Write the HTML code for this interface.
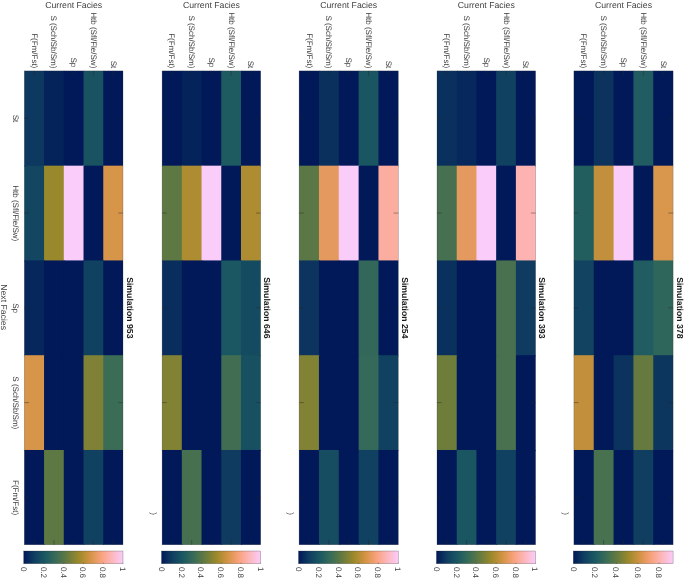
<!DOCTYPE html>
<html><head><meta charset="utf-8"><title>Transition matrices</title>
<style>
html,body{margin:0;padding:0;background:#fff;}
svg{display:block;}
text{text-rendering:geometricPrecision;font-family:"Liberation Sans",Arial,sans-serif;fill:#404040;}
.lab{font-size:8.7px;}
.tick{font-size:8px;}
.ttl{font-size:8.7px;font-weight:bold;fill:#1a1a1a;}
</style></head><body>
<svg width="685" height="578" viewBox="0 0 685 578">
<defs>
<linearGradient id="cb" x1="0" y1="0" x2="1" y2="0">
<stop offset="0.0000" stop-color="#011959"/><stop offset="0.1111" stop-color="#103F60"/><stop offset="0.2222" stop-color="#1C5A62"/><stop offset="0.3333" stop-color="#3C6D56"/><stop offset="0.4444" stop-color="#687B3E"/><stop offset="0.5556" stop-color="#9D892B"/><stop offset="0.6667" stop-color="#D29343"/><stop offset="0.7778" stop-color="#F8A17B"/><stop offset="0.8889" stop-color="#FDB7BC"/><stop offset="1.0000" stop-color="#FACCFA"/>
</linearGradient>
</defs>
<rect width="685" height="578" fill="#fff"/>
<g>
<rect x="24.30" y="70.90" width="20.74" height="95.77" fill="#0D385F"/><rect x="44.04" y="70.90" width="20.74" height="95.77" fill="#05235B"/><rect x="63.78" y="70.90" width="20.74" height="95.77" fill="#011959"/><rect x="83.52" y="70.90" width="20.74" height="95.77" fill="#195261"/><rect x="103.26" y="70.90" width="19.74" height="95.77" fill="#011959"/>
<rect x="24.30" y="165.67" width="20.74" height="95.77" fill="#134661"/><rect x="44.04" y="165.67" width="20.74" height="95.77" fill="#9A882C"/><rect x="63.78" y="165.67" width="20.74" height="95.77" fill="#FACCFA"/><rect x="83.52" y="165.67" width="20.74" height="95.77" fill="#011959"/><rect x="103.26" y="165.67" width="19.74" height="95.77" fill="#D7954A"/>
<rect x="24.30" y="260.44" width="20.74" height="95.77" fill="#06275C"/><rect x="44.04" y="260.44" width="20.74" height="95.77" fill="#011959"/><rect x="63.78" y="260.44" width="20.74" height="95.77" fill="#011959"/><rect x="83.52" y="260.44" width="20.74" height="95.77" fill="#114160"/><rect x="103.26" y="260.44" width="19.74" height="95.77" fill="#011959"/>
<rect x="24.30" y="355.21" width="20.74" height="95.77" fill="#D7954A"/><rect x="44.04" y="355.21" width="20.74" height="95.77" fill="#011959"/><rect x="63.78" y="355.21" width="20.74" height="95.77" fill="#011959"/><rect x="83.52" y="355.21" width="20.74" height="95.77" fill="#7E8136"/><rect x="103.26" y="355.21" width="19.74" height="95.77" fill="#3B6C56"/>
<rect x="24.30" y="449.98" width="20.74" height="94.77" fill="#011959"/><rect x="44.04" y="449.98" width="20.74" height="94.77" fill="#5E7843"/><rect x="63.78" y="449.98" width="20.74" height="94.77" fill="#011959"/><rect x="83.52" y="449.98" width="20.74" height="94.77" fill="#114160"/><rect x="103.26" y="449.98" width="19.74" height="94.77" fill="#011959"/>
<rect x="24.30" y="70.90" width="98.70" height="473.85" fill="none" stroke="#262626" stroke-opacity="0.45" stroke-width="0.5"/>
<path d="M34.17 70.90v4.7M34.17 544.75v-4.7M53.91 70.90v4.7M53.91 544.75v-4.7M73.65 70.90v4.7M73.65 544.75v-4.7M93.39 70.90v4.7M93.39 544.75v-4.7M113.13 70.90v4.7M113.13 544.75v-4.7M24.30 118.29h4.7M123.00 118.29h-4.7M24.30 213.06h4.7M123.00 213.06h-4.7M24.30 307.83h4.7M123.00 307.83h-4.7M24.30 402.60h4.7M123.00 402.60h-4.7M24.30 497.37h4.7M123.00 497.37h-4.7" stroke="#262626" stroke-opacity="0.7" stroke-width="0.6" fill="none"/>
<text class="tick" text-anchor="end" transform="translate(31.67 68.30) rotate(90)">F(Fm/Fst)</text><text class="tick" text-anchor="end" transform="translate(51.41 68.30) rotate(90)">S (Sch/Sb/Sm)</text><text class="tick" text-anchor="end" transform="translate(71.15 67.30) rotate(90)">Sp</text><text class="tick" text-anchor="end" transform="translate(90.89 68.30) rotate(90)">Htb (Sfl/Fle/Sw)</text><text class="tick" text-anchor="end" transform="translate(110.63 68.30) rotate(90)">St</text>
<text class="lab" text-anchor="middle" x="73.65" y="7.6">Current Facies</text>
<text class="ttl" text-anchor="middle" transform="translate(126.60 307.82) rotate(90)">Simulation 953</text>
<rect x="23.70" y="551.00" width="99.30" height="12.70" fill="url(#cb)" stroke="#262626" stroke-opacity="0.5" stroke-width="0.5"/>
<text class="tick" transform="translate(21.10 566.90) rotate(90)">0</text><path d="M24.30 563.70v-1" stroke="#1b1b2b" stroke-opacity="0.6" stroke-width="0.6"/><text class="tick" transform="translate(40.84 566.90) rotate(90)">0.2</text><path d="M44.04 563.70v-1" stroke="#1b1b2b" stroke-opacity="0.6" stroke-width="0.6"/><text class="tick" transform="translate(60.58 566.90) rotate(90)">0.4</text><path d="M63.78 563.70v-1" stroke="#1b1b2b" stroke-opacity="0.6" stroke-width="0.6"/><text class="tick" transform="translate(80.32 566.90) rotate(90)">0.6</text><path d="M83.52 563.70v-1" stroke="#1b1b2b" stroke-opacity="0.6" stroke-width="0.6"/><text class="tick" transform="translate(100.06 566.90) rotate(90)">0.8</text><path d="M103.26 563.70v-1" stroke="#1b1b2b" stroke-opacity="0.6" stroke-width="0.6"/><text class="tick" transform="translate(119.80 566.90) rotate(90)">1</text><path d="M123.00 563.70v-1" stroke="#1b1b2b" stroke-opacity="0.6" stroke-width="0.6"/>
<text class="tick" text-anchor="middle" transform="translate(13.40 118.49) rotate(90)">St</text><text class="tick" text-anchor="middle" transform="translate(13.40 213.26) rotate(90)">Htb (Sfl/Fle/Sw)</text><text class="tick" text-anchor="middle" transform="translate(13.40 308.03) rotate(90)">Sp</text><text class="tick" text-anchor="middle" transform="translate(13.40 402.80) rotate(90)">S (Sch/Sb/Sm)</text><text class="tick" text-anchor="middle" transform="translate(13.40 497.56) rotate(90)">F(Fm/Fst)</text>
<text class="lab" text-anchor="middle" transform="translate(1.30 307.12) rotate(90)">Next Facies</text>
</g>
<g>
<rect x="162.10" y="70.90" width="20.72" height="95.77" fill="#011959"/><rect x="181.82" y="70.90" width="20.72" height="95.77" fill="#05235B"/><rect x="201.54" y="70.90" width="20.72" height="95.77" fill="#011959"/><rect x="221.26" y="70.90" width="20.72" height="95.77" fill="#1E5B61"/><rect x="240.98" y="70.90" width="19.72" height="95.77" fill="#011959"/>
<rect x="162.10" y="165.67" width="20.72" height="95.77" fill="#5E7843"/><rect x="181.82" y="165.67" width="20.72" height="95.77" fill="#AD8C32"/><rect x="201.54" y="165.67" width="20.72" height="95.77" fill="#FACCFA"/><rect x="221.26" y="165.67" width="20.72" height="95.77" fill="#011959"/><rect x="240.98" y="165.67" width="19.72" height="95.77" fill="#AD8C32"/>
<rect x="162.10" y="260.44" width="20.72" height="95.77" fill="#092E5D"/><rect x="181.82" y="260.44" width="20.72" height="95.77" fill="#011959"/><rect x="201.54" y="260.44" width="20.72" height="95.77" fill="#011959"/><rect x="221.26" y="260.44" width="20.72" height="95.77" fill="#1B5762"/><rect x="240.98" y="260.44" width="19.72" height="95.77" fill="#154B61"/>
<rect x="162.10" y="355.21" width="20.72" height="95.77" fill="#828234"/><rect x="181.82" y="355.21" width="20.72" height="95.77" fill="#011959"/><rect x="201.54" y="355.21" width="20.72" height="95.77" fill="#011959"/><rect x="221.26" y="355.21" width="20.72" height="95.77" fill="#416E53"/><rect x="240.98" y="355.21" width="19.72" height="95.77" fill="#175061"/>
<rect x="162.10" y="449.98" width="20.72" height="94.77" fill="#011959"/><rect x="181.82" y="449.98" width="20.72" height="94.77" fill="#477050"/><rect x="201.54" y="449.98" width="20.72" height="94.77" fill="#011959"/><rect x="221.26" y="449.98" width="20.72" height="94.77" fill="#0E3B5F"/><rect x="240.98" y="449.98" width="19.72" height="94.77" fill="#011959"/>
<rect x="162.10" y="70.90" width="98.60" height="473.85" fill="none" stroke="#262626" stroke-opacity="0.45" stroke-width="0.5"/>
<path d="M171.96 70.90v4.7M171.96 544.75v-4.7M191.68 70.90v4.7M191.68 544.75v-4.7M211.40 70.90v4.7M211.40 544.75v-4.7M231.12 70.90v4.7M231.12 544.75v-4.7M250.84 70.90v4.7M250.84 544.75v-4.7M162.10 118.29h4.7M260.70 118.29h-4.7M162.10 213.06h4.7M260.70 213.06h-4.7M162.10 307.83h4.7M260.70 307.83h-4.7M162.10 402.60h4.7M260.70 402.60h-4.7M162.10 497.37h4.7M260.70 497.37h-4.7" stroke="#262626" stroke-opacity="0.7" stroke-width="0.6" fill="none"/>
<text class="tick" text-anchor="end" transform="translate(169.46 68.30) rotate(90)">F(Fm/Fst)</text><text class="tick" text-anchor="end" transform="translate(189.18 68.30) rotate(90)">S (Sch/Sb/Sm)</text><text class="tick" text-anchor="end" transform="translate(208.90 67.30) rotate(90)">Sp</text><text class="tick" text-anchor="end" transform="translate(228.62 68.30) rotate(90)">Htb (Sfl/Fle/Sw)</text><text class="tick" text-anchor="end" transform="translate(248.34 68.30) rotate(90)">St</text>
<text class="lab" text-anchor="middle" x="211.40" y="7.6">Current Facies</text>
<text class="ttl" text-anchor="middle" transform="translate(264.30 307.82) rotate(90)">Simulation 646</text>
<rect x="161.50" y="551.00" width="99.20" height="12.70" fill="url(#cb)" stroke="#262626" stroke-opacity="0.5" stroke-width="0.5"/>
<text class="tick" transform="translate(158.90 566.90) rotate(90)">0</text><path d="M162.10 563.70v-1" stroke="#1b1b2b" stroke-opacity="0.6" stroke-width="0.6"/><text class="tick" transform="translate(178.62 566.90) rotate(90)">0.2</text><path d="M181.82 563.70v-1" stroke="#1b1b2b" stroke-opacity="0.6" stroke-width="0.6"/><text class="tick" transform="translate(198.34 566.90) rotate(90)">0.4</text><path d="M201.54 563.70v-1" stroke="#1b1b2b" stroke-opacity="0.6" stroke-width="0.6"/><text class="tick" transform="translate(218.06 566.90) rotate(90)">0.6</text><path d="M221.26 563.70v-1" stroke="#1b1b2b" stroke-opacity="0.6" stroke-width="0.6"/><text class="tick" transform="translate(237.78 566.90) rotate(90)">0.8</text><path d="M240.98 563.70v-1" stroke="#1b1b2b" stroke-opacity="0.6" stroke-width="0.6"/><text class="tick" transform="translate(257.50 566.90) rotate(90)">1</text><path d="M260.70 563.70v-1" stroke="#1b1b2b" stroke-opacity="0.6" stroke-width="0.6"/>
<text class="tick" transform="translate(150.90 512.20) rotate(90)">)</text>
</g>
<g>
<rect x="299.10" y="70.90" width="20.84" height="95.77" fill="#011959"/><rect x="318.94" y="70.90" width="20.84" height="95.77" fill="#0A315D"/><rect x="338.78" y="70.90" width="20.84" height="95.77" fill="#011959"/><rect x="358.62" y="70.90" width="20.84" height="95.77" fill="#1A5562"/><rect x="378.46" y="70.90" width="19.84" height="95.77" fill="#011959"/>
<rect x="299.10" y="165.67" width="20.84" height="95.77" fill="#5A7745"/><rect x="318.94" y="165.67" width="20.84" height="95.77" fill="#E49A5E"/><rect x="338.78" y="165.67" width="20.84" height="95.77" fill="#FACCFA"/><rect x="358.62" y="165.67" width="20.84" height="95.77" fill="#011959"/><rect x="378.46" y="165.67" width="19.84" height="95.77" fill="#FBAD9F"/>
<rect x="299.10" y="260.44" width="20.84" height="95.77" fill="#0C345E"/><rect x="318.94" y="260.44" width="20.84" height="95.77" fill="#011959"/><rect x="338.78" y="260.44" width="20.84" height="95.77" fill="#011959"/><rect x="358.62" y="260.44" width="20.84" height="95.77" fill="#32675A"/><rect x="378.46" y="260.44" width="19.84" height="95.77" fill="#011959"/>
<rect x="299.10" y="355.21" width="20.84" height="95.77" fill="#828234"/><rect x="318.94" y="355.21" width="20.84" height="95.77" fill="#011959"/><rect x="338.78" y="355.21" width="20.84" height="95.77" fill="#011959"/><rect x="358.62" y="355.21" width="20.84" height="95.77" fill="#356959"/><rect x="378.46" y="355.21" width="19.84" height="95.77" fill="#114160"/>
<rect x="299.10" y="449.98" width="20.84" height="94.77" fill="#011959"/><rect x="318.94" y="449.98" width="20.84" height="94.77" fill="#164D61"/><rect x="338.78" y="449.98" width="20.84" height="94.77" fill="#011959"/><rect x="358.62" y="449.98" width="20.84" height="94.77" fill="#114160"/><rect x="378.46" y="449.98" width="19.84" height="94.77" fill="#011959"/>
<rect x="299.10" y="70.90" width="99.20" height="473.85" fill="none" stroke="#262626" stroke-opacity="0.45" stroke-width="0.5"/>
<path d="M309.02 70.90v4.7M309.02 544.75v-4.7M328.86 70.90v4.7M328.86 544.75v-4.7M348.70 70.90v4.7M348.70 544.75v-4.7M368.54 70.90v4.7M368.54 544.75v-4.7M388.38 70.90v4.7M388.38 544.75v-4.7M299.10 118.29h4.7M398.30 118.29h-4.7M299.10 213.06h4.7M398.30 213.06h-4.7M299.10 307.83h4.7M398.30 307.83h-4.7M299.10 402.60h4.7M398.30 402.60h-4.7M299.10 497.37h4.7M398.30 497.37h-4.7" stroke="#262626" stroke-opacity="0.7" stroke-width="0.6" fill="none"/>
<text class="tick" text-anchor="end" transform="translate(306.52 68.30) rotate(90)">F(Fm/Fst)</text><text class="tick" text-anchor="end" transform="translate(326.36 68.30) rotate(90)">S (Sch/Sb/Sm)</text><text class="tick" text-anchor="end" transform="translate(346.20 67.30) rotate(90)">Sp</text><text class="tick" text-anchor="end" transform="translate(366.04 68.30) rotate(90)">Htb (Sfl/Fle/Sw)</text><text class="tick" text-anchor="end" transform="translate(385.88 68.30) rotate(90)">St</text>
<text class="lab" text-anchor="middle" x="348.70" y="7.6">Current Facies</text>
<text class="ttl" text-anchor="middle" transform="translate(401.90 307.82) rotate(90)">Simulation 254</text>
<rect x="298.50" y="551.00" width="99.80" height="12.70" fill="url(#cb)" stroke="#262626" stroke-opacity="0.5" stroke-width="0.5"/>
<text class="tick" transform="translate(295.90 566.90) rotate(90)">0</text><path d="M299.10 563.70v-1" stroke="#1b1b2b" stroke-opacity="0.6" stroke-width="0.6"/><text class="tick" transform="translate(315.74 566.90) rotate(90)">0.2</text><path d="M318.94 563.70v-1" stroke="#1b1b2b" stroke-opacity="0.6" stroke-width="0.6"/><text class="tick" transform="translate(335.58 566.90) rotate(90)">0.4</text><path d="M338.78 563.70v-1" stroke="#1b1b2b" stroke-opacity="0.6" stroke-width="0.6"/><text class="tick" transform="translate(355.42 566.90) rotate(90)">0.6</text><path d="M358.62 563.70v-1" stroke="#1b1b2b" stroke-opacity="0.6" stroke-width="0.6"/><text class="tick" transform="translate(375.26 566.90) rotate(90)">0.8</text><path d="M378.46 563.70v-1" stroke="#1b1b2b" stroke-opacity="0.6" stroke-width="0.6"/><text class="tick" transform="translate(395.10 566.90) rotate(90)">1</text><path d="M398.30 563.70v-1" stroke="#1b1b2b" stroke-opacity="0.6" stroke-width="0.6"/>
<text class="tick" transform="translate(287.90 512.20) rotate(90)">)</text>
</g>
<g>
<rect x="437.00" y="70.90" width="20.72" height="95.77" fill="#0A315D"/><rect x="456.72" y="70.90" width="20.72" height="95.77" fill="#07285C"/><rect x="476.44" y="70.90" width="20.72" height="95.77" fill="#011959"/><rect x="496.16" y="70.90" width="20.72" height="95.77" fill="#114160"/><rect x="515.88" y="70.90" width="19.72" height="95.77" fill="#011959"/>
<rect x="437.00" y="165.67" width="20.72" height="95.77" fill="#477050"/><rect x="456.72" y="165.67" width="20.72" height="95.77" fill="#E49A5E"/><rect x="476.44" y="165.67" width="20.72" height="95.77" fill="#FACCFA"/><rect x="496.16" y="165.67" width="20.72" height="95.77" fill="#011959"/><rect x="515.88" y="165.67" width="19.72" height="95.77" fill="#FCB3B1"/>
<rect x="437.00" y="260.44" width="20.72" height="95.77" fill="#0A315D"/><rect x="456.72" y="260.44" width="20.72" height="95.77" fill="#011959"/><rect x="476.44" y="260.44" width="20.72" height="95.77" fill="#011959"/><rect x="496.16" y="260.44" width="20.72" height="95.77" fill="#49714F"/><rect x="515.88" y="260.44" width="19.72" height="95.77" fill="#0E3B5F"/>
<rect x="437.00" y="355.21" width="20.72" height="95.77" fill="#6F7D3B"/><rect x="456.72" y="355.21" width="20.72" height="95.77" fill="#011959"/><rect x="476.44" y="355.21" width="20.72" height="95.77" fill="#011959"/><rect x="496.16" y="355.21" width="20.72" height="95.77" fill="#49714F"/><rect x="515.88" y="355.21" width="19.72" height="95.77" fill="#011959"/>
<rect x="437.00" y="449.98" width="20.72" height="94.77" fill="#011959"/><rect x="456.72" y="449.98" width="20.72" height="94.77" fill="#1A5562"/><rect x="476.44" y="449.98" width="20.72" height="94.77" fill="#011959"/><rect x="496.16" y="449.98" width="20.72" height="94.77" fill="#114160"/><rect x="515.88" y="449.98" width="19.72" height="94.77" fill="#011959"/>
<rect x="437.00" y="70.90" width="98.60" height="473.85" fill="none" stroke="#262626" stroke-opacity="0.45" stroke-width="0.5"/>
<path d="M446.86 70.90v4.7M446.86 544.75v-4.7M466.58 70.90v4.7M466.58 544.75v-4.7M486.30 70.90v4.7M486.30 544.75v-4.7M506.02 70.90v4.7M506.02 544.75v-4.7M525.74 70.90v4.7M525.74 544.75v-4.7M437.00 118.29h4.7M535.60 118.29h-4.7M437.00 213.06h4.7M535.60 213.06h-4.7M437.00 307.83h4.7M535.60 307.83h-4.7M437.00 402.60h4.7M535.60 402.60h-4.7M437.00 497.37h4.7M535.60 497.37h-4.7" stroke="#262626" stroke-opacity="0.7" stroke-width="0.6" fill="none"/>
<text class="tick" text-anchor="end" transform="translate(444.36 68.30) rotate(90)">F(Fm/Fst)</text><text class="tick" text-anchor="end" transform="translate(464.08 68.30) rotate(90)">S (Sch/Sb/Sm)</text><text class="tick" text-anchor="end" transform="translate(483.80 67.30) rotate(90)">Sp</text><text class="tick" text-anchor="end" transform="translate(503.52 68.30) rotate(90)">Htb (Sfl/Fle/Sw)</text><text class="tick" text-anchor="end" transform="translate(523.24 68.30) rotate(90)">St</text>
<text class="lab" text-anchor="middle" x="486.30" y="7.6">Current Facies</text>
<text class="ttl" text-anchor="middle" transform="translate(539.20 307.82) rotate(90)">Simulation 393</text>
<rect x="436.40" y="551.00" width="99.20" height="12.70" fill="url(#cb)" stroke="#262626" stroke-opacity="0.5" stroke-width="0.5"/>
<text class="tick" transform="translate(433.80 566.90) rotate(90)">0</text><path d="M437.00 563.70v-1" stroke="#1b1b2b" stroke-opacity="0.6" stroke-width="0.6"/><text class="tick" transform="translate(453.52 566.90) rotate(90)">0.2</text><path d="M456.72 563.70v-1" stroke="#1b1b2b" stroke-opacity="0.6" stroke-width="0.6"/><text class="tick" transform="translate(473.24 566.90) rotate(90)">0.4</text><path d="M476.44 563.70v-1" stroke="#1b1b2b" stroke-opacity="0.6" stroke-width="0.6"/><text class="tick" transform="translate(492.96 566.90) rotate(90)">0.6</text><path d="M496.16 563.70v-1" stroke="#1b1b2b" stroke-opacity="0.6" stroke-width="0.6"/><text class="tick" transform="translate(512.68 566.90) rotate(90)">0.8</text><path d="M515.88 563.70v-1" stroke="#1b1b2b" stroke-opacity="0.6" stroke-width="0.6"/><text class="tick" transform="translate(532.40 566.90) rotate(90)">1</text><path d="M535.60 563.70v-1" stroke="#1b1b2b" stroke-opacity="0.6" stroke-width="0.6"/>
</g>
<g>
<rect x="573.90" y="70.90" width="20.84" height="95.77" fill="#011959"/><rect x="593.74" y="70.90" width="20.84" height="95.77" fill="#0B335E"/><rect x="613.58" y="70.90" width="20.84" height="95.77" fill="#011959"/><rect x="633.42" y="70.90" width="20.84" height="95.77" fill="#205C61"/><rect x="653.26" y="70.90" width="19.84" height="95.77" fill="#011959"/>
<rect x="573.90" y="165.67" width="20.84" height="95.77" fill="#235E5F"/><rect x="593.74" y="165.67" width="20.84" height="95.77" fill="#C2903C"/><rect x="613.58" y="165.67" width="20.84" height="95.77" fill="#FACCF9"/><rect x="633.42" y="165.67" width="20.84" height="95.77" fill="#011959"/><rect x="653.26" y="165.67" width="19.84" height="95.77" fill="#D9964D"/>
<rect x="573.90" y="260.44" width="20.84" height="95.77" fill="#124360"/><rect x="593.74" y="260.44" width="20.84" height="95.77" fill="#011959"/><rect x="613.58" y="260.44" width="20.84" height="95.77" fill="#011959"/><rect x="633.42" y="260.44" width="20.84" height="95.77" fill="#205C61"/><rect x="653.26" y="260.44" width="19.84" height="95.77" fill="#2F665B"/>
<rect x="573.90" y="355.21" width="20.84" height="95.77" fill="#C2903C"/><rect x="593.74" y="355.21" width="20.84" height="95.77" fill="#011959"/><rect x="613.58" y="355.21" width="20.84" height="95.77" fill="#0B335E"/><rect x="633.42" y="355.21" width="20.84" height="95.77" fill="#667A3F"/><rect x="653.26" y="355.21" width="19.84" height="95.77" fill="#0D365E"/>
<rect x="573.90" y="449.98" width="20.84" height="94.77" fill="#011959"/><rect x="593.74" y="449.98" width="20.84" height="94.77" fill="#48714F"/><rect x="613.58" y="449.98" width="20.84" height="94.77" fill="#011959"/><rect x="633.42" y="449.98" width="20.84" height="94.77" fill="#0F3E60"/><rect x="653.26" y="449.98" width="19.84" height="94.77" fill="#011959"/>
<rect x="573.90" y="70.90" width="99.20" height="473.85" fill="none" stroke="#262626" stroke-opacity="0.45" stroke-width="0.5"/>
<path d="M583.82 70.90v4.7M583.82 544.75v-4.7M603.66 70.90v4.7M603.66 544.75v-4.7M623.50 70.90v4.7M623.50 544.75v-4.7M643.34 70.90v4.7M643.34 544.75v-4.7M663.18 70.90v4.7M663.18 544.75v-4.7M573.90 118.29h4.7M673.10 118.29h-4.7M573.90 213.06h4.7M673.10 213.06h-4.7M573.90 307.83h4.7M673.10 307.83h-4.7M573.90 402.60h4.7M673.10 402.60h-4.7M573.90 497.37h4.7M673.10 497.37h-4.7" stroke="#262626" stroke-opacity="0.7" stroke-width="0.6" fill="none"/>
<text class="tick" text-anchor="end" transform="translate(581.32 68.30) rotate(90)">F(Fm/Fst)</text><text class="tick" text-anchor="end" transform="translate(601.16 68.30) rotate(90)">S (Sch/Sb/Sm)</text><text class="tick" text-anchor="end" transform="translate(621.00 67.30) rotate(90)">Sp</text><text class="tick" text-anchor="end" transform="translate(640.84 68.30) rotate(90)">Htb (Sfl/Fle/Sw)</text><text class="tick" text-anchor="end" transform="translate(660.68 68.30) rotate(90)">St</text>
<text class="lab" text-anchor="middle" x="623.50" y="7.6">Current Facies</text>
<text class="ttl" text-anchor="middle" transform="translate(676.70 307.82) rotate(90)">Simulation 378</text>
<rect x="573.30" y="551.00" width="99.80" height="12.70" fill="url(#cb)" stroke="#262626" stroke-opacity="0.5" stroke-width="0.5"/>
<text class="tick" transform="translate(570.70 566.90) rotate(90)">0</text><path d="M573.90 563.70v-1" stroke="#1b1b2b" stroke-opacity="0.6" stroke-width="0.6"/><text class="tick" transform="translate(591.99 566.90) rotate(90)">0.2</text><path d="M595.19 563.70v-1" stroke="#1b1b2b" stroke-opacity="0.6" stroke-width="0.6"/><text class="tick" transform="translate(613.28 566.90) rotate(90)">0.4</text><path d="M616.48 563.70v-1" stroke="#1b1b2b" stroke-opacity="0.6" stroke-width="0.6"/><text class="tick" transform="translate(634.56 566.90) rotate(90)">0.6</text><path d="M637.76 563.70v-1" stroke="#1b1b2b" stroke-opacity="0.6" stroke-width="0.6"/><text class="tick" transform="translate(655.85 566.90) rotate(90)">0.8</text><path d="M659.05 563.70v-1" stroke="#1b1b2b" stroke-opacity="0.6" stroke-width="0.6"/>
<text class="tick" transform="translate(562.70 512.20) rotate(90)">)</text>
</g>
</svg>
</body></html>
